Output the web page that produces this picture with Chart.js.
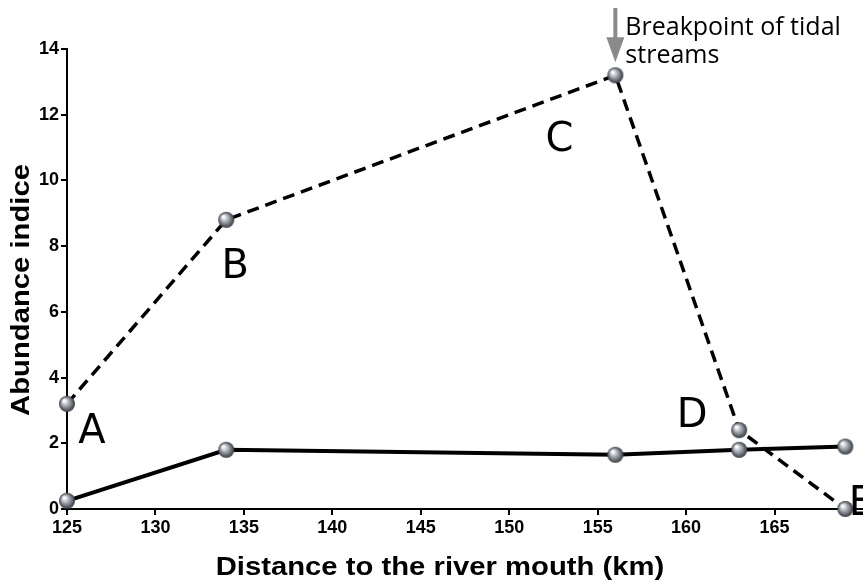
<!DOCTYPE html>
<html>
<head>
<meta charset="utf-8">
<script src="https://cdn.jsdelivr.net/npm/chart.js@4/dist/chart.umd.min.js"></script>
<style>
  html, body { margin: 0; padding: 0; background: #fff; }
  #wrap { width: 863px; height: 580px; }
</style>
</head>
<body>
<div id="wrap"><canvas id="lineChart"></canvas></div>
<script>
const distances = [125, 134, 156, 163, 169];
const dashedValues = [3.2, 8.8, 13.2, 2.4, 0];
const solidValues = [0.25, 1.8, 1.65, 1.8, 1.9];
const siteLabels = ["A", "B", "C", "D", "E"];
const breakpointIndex = 2;
const xTitle = "Distance to the river mouth (km)";
const yTitle = "Abundance indice";

// little grey sphere used as point marker
function makeSphere(r) {
    const c = document.createElement("canvas");
    c.width = c.height = r * 2 + 2;
    const g = c.getContext("2d");
    const cx = r + 1, cy = r + 1;
    const grad = g.createRadialGradient(cx - r * 0.35, cy - r * 0.4, r * 0.1, cx, cy, r);
    grad.addColorStop(0, "#ffffff");
    grad.addColorStop(0.35, "#b8bcc2");
    grad.addColorStop(0.8, "#5b6068");
    grad.addColorStop(1, "#3a3d42");
    g.fillStyle = grad;
    g.beginPath();
    g.arc(cx, cy, r, 0, Math.PI * 2);
    g.fill();
    return c;
}
const sphere = makeSphere(8);

const toPoints = (vals) => vals.map((v, i) => ({ x: distances[i], y: v }));

// letter offsets from the dashed points, in pixels
const letterOffsets = [[25, 29], [9, 48], [-56, 65], [-47, -14], [16, -4]];

const annotations = {
    id: "annotations",
    afterDatasetsDraw(chart) {
        const ctx = chart.ctx;
        const xs = chart.scales.x, ys = chart.scales.y;
        ctx.save();
        ctx.fillStyle = "#000";
        ctx.font = "40px 'DejaVu Sans'";
        ctx.textAlign = "center";
        ctx.textBaseline = "middle";
        siteLabels.forEach((t, i) => {
            const px = xs.getPixelForValue(distances[i]);
            const py = ys.getPixelForValue(dashedValues[i]);
            ctx.fillText(t, px + letterOffsets[i][0], py + letterOffsets[i][1]);
        });

        // arrow at the breakpoint
        const bx = xs.getPixelForValue(distances[breakpointIndex]);
        const by = ys.getPixelForValue(dashedValues[breakpointIndex]);
        ctx.fillStyle = "#8a8a8a";
        ctx.fillRect(bx - 2, 8, 4, by - 45);
        ctx.beginPath();
        ctx.moveTo(bx - 9, by - 38);
        ctx.lineTo(bx + 9, by - 38);
        ctx.lineTo(bx, by - 13);
        ctx.closePath();
        ctx.fill();

        ctx.fillStyle = "#000";
        ctx.font = "25px 'Open Sans'";
        ctx.textAlign = "left";
        ctx.textBaseline = "alphabetic";
        ctx.fillText("Breakpoint of tidal", bx + 10, 35);
        ctx.fillText("streams", bx + 10, 63);

        // axis titles (slightly widened bold sans)
        ctx.font = "bold 25px 'Liberation Sans'";
        ctx.textAlign = "center";
        ctx.save();
        ctx.translate(440, 575);
        ctx.scale(1.17, 1);
        ctx.fillText(xTitle, 0, 0);
        ctx.restore();
        ctx.save();
        ctx.translate(29, 290);
        ctx.rotate(-Math.PI / 2);
        ctx.scale(1.17, 1);
        ctx.fillText(yTitle, 0, 0);
        ctx.restore();
        ctx.restore();
    }
};

const tickFont = { family: "'Liberation Sans'", size: 18, weight: "bold" };

new Chart(document.getElementById("lineChart"), {
    type: "line",
    data: {
        datasets: [
            {
                data: toPoints(solidValues),
                borderColor: "#000",
                borderWidth: 4,
                pointStyle: sphere,
                pointRadius: 8,
                tension: 0,
                clip: false,
            },
            {
                data: toPoints(dashedValues),
                borderColor: "#000",
                borderWidth: 3.5,
                borderDash: [12, 7],
                pointStyle: sphere,
                pointRadius: 8,
                tension: 0,
                clip: false,
            },
        ],
    },
    options: {
        responsive: true,
        maintainAspectRatio: false,
        animation: false,
        layout: { autoPadding: false, padding: { top: 49, right: 0, left: 0, bottom: 0 } },
        plugins: { legend: { display: false }, tooltip: { enabled: false } },
        scales: {
            x: {
                type: "linear",
                min: 125,
                max: 170,
                afterFit: (s) => { s.height = 71; s.paddingRight = 0; },
                afterBuildTicks: (s) => { s.ticks = s.ticks.filter((t) => t.value !== 170); },
                ticks: { stepSize: 5, color: "#000", font: tickFont, padding: 2 },
                grid: { drawOnChartArea: false, drawTicks: true, tickLength: 6, color: "#000", lineWidth: 2 },
                border: { color: "#000", width: 2 },
            },
            y: {
                min: 0,
                max: 14,
                afterFit: (s) => { s.width = 67; },
                ticks: { stepSize: 2, color: "#000", font: tickFont, padding: 2 },
                grid: { drawOnChartArea: false, drawTicks: true, tickLength: 6, color: "#000", lineWidth: 2 },
                border: { color: "#000", width: 2 },
            },
        },
    },
    plugins: [annotations],
});
</script>
</body>
</html>
